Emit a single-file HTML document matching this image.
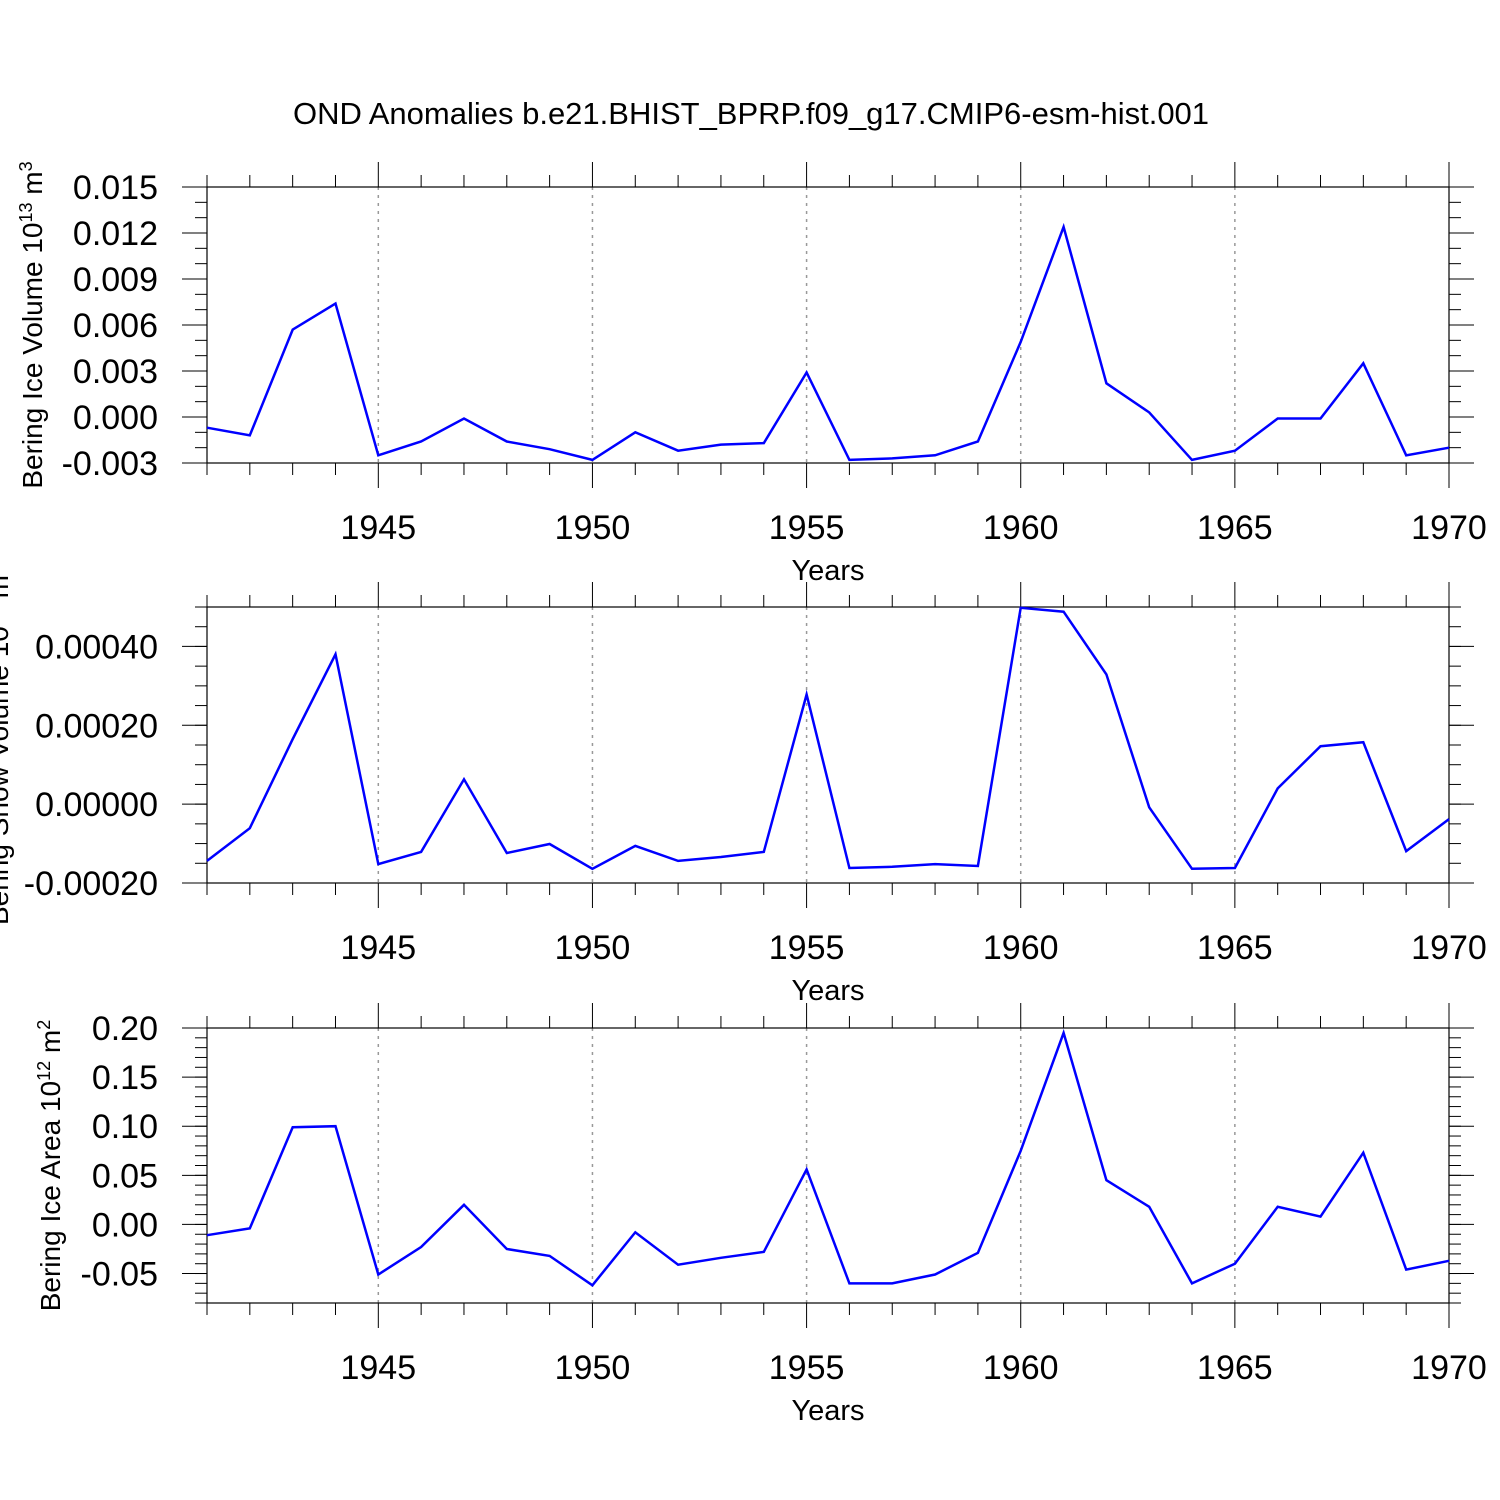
<!DOCTYPE html>
<html><head><meta charset="utf-8"><style>
html,body{margin:0;padding:0;background:#fff;}
svg{display:block;font-family:"Liberation Sans",Arial,sans-serif;}
</style></head><body>
<svg id="chart" width="1500" height="1500" viewBox="0 0 1500 1500" xmlns="http://www.w3.org/2000/svg">
<rect width="1500" height="1500" fill="#fff"/>
<text x="751" y="124" font-size="31" text-anchor="middle">OND Anomalies b.e21.BHIST_BPRP.f09_g17.CMIP6-esm-hist.001</text>
</svg>
<script>
const years = [1941,1942,1943,1944,1945,1946,1947,1948,1949,1950,1951,1952,1953,1954,1955,1956,1957,1958,1959,1960,1961,1962,1963,1964,1965,1966,1967,1968,1969,1970];
const iceVolume = [-0.0007,-0.0012,0.0057,0.0074,-0.0025,-0.0016,-0.0001,-0.0016,-0.0021,-0.0028,-0.001,-0.0022,-0.0018,-0.0017,0.0029,-0.0028,-0.0027,-0.0025,-0.0016,0.0049,0.0124,0.0022,0.0003,-0.0028,-0.0022,-0.0001,-0.0001,0.0035,-0.0025,-0.002];
const snowVolume = [-0.000144,-0.000061,0.000165,0.00038,-0.000152,-0.000121,0.000063,-0.000124,-0.000101,-0.000164,-0.000106,-0.000144,-0.000134,-0.000121,0.000278,-0.000162,-0.000159,-0.000152,-0.000157,0.000498,0.000488,0.000329,-0.000008,-0.000164,-0.000162,0.00004,0.000147,0.000157,-0.000119,-0.000038];
const iceArea = [-0.011,-0.004,0.099,0.100,-0.051,-0.023,0.020,-0.025,-0.032,-0.062,-0.008,-0.041,-0.034,-0.028,0.056,-0.060,-0.060,-0.051,-0.029,0.075,0.195,0.045,0.018,-0.060,-0.040,0.018,0.008,0.073,-0.046,-0.037];
const xTickYears = [1945,1950,1955,1960,1965,1970];
const volTicks = ["0.015","0.012","0.009","0.006","0.003","0.000","-0.003"];
const snowTicks = ["0.00040","0.00020","0.00000","-0.00020"];
const areaTicks = ["0.20","0.15","0.10","0.05","0.00","-0.05"];

const NS="http://www.w3.org/2000/svg";
const svg=document.getElementById('chart');
const X0=207,X1=1449;
function xs(yr){return X0+(yr-1941)/(1970-1941)*(X1-X0);}
function mk(tag,attrs,parent){const e=document.createElementNS(NS,tag);for(const k in attrs)e.setAttribute(k,attrs[k]);(parent||svg).appendChild(e);return e;}

function panel(cfg){
  const g=mk('g',{});
  
  
  const ys=v=>cfg.top+(cfg.ymax-v)/(cfg.ymax-cfg.ymin)*(cfg.bot-cfg.top);
  xTickYears.forEach(yr=>{ if(yr<1970){
    const l=mk('line',{x1:xs(yr),x2:xs(yr),y1:cfg.top,y2:cfg.bot,stroke:'#999','stroke-width':1.5,'stroke-dasharray':'3,5'},g);
    
    
  }});
  const fr=mk('rect',{x:X0,y:cfg.top,width:X1-X0,height:cfg.bot-cfg.top,fill:'none',stroke:'#000','stroke-width':1.2},g);
  
  
  years.forEach(yr=>{
    const major=yr%5===0; const L=major?25:12; const x=xs(yr);
    mk('line',{x1:x,x2:x,y1:cfg.top,y2:cfg.top-L,stroke:'#000','stroke-width':1},g);
    mk('line',{x1:x,x2:x,y1:cfg.bot,y2:cfg.bot+L,stroke:'#000','stroke-width':1},g);
  });
  xTickYears.forEach(yr=>{
    const t=mk('text',{x:xs(yr),y:cfg.bot+76,'font-size':34,'text-anchor':'middle'},g);
    t.textContent=yr;
    
    
  });
  const xt=mk('text',{x:828,y:cfg.bot+117,'font-size':29,'text-anchor':'middle'},g);
  xt.textContent='Years';
  
  
  for(let v=cfg.ymin;v<=cfg.ymax+1e-12;v+=cfg.minor){
    const y=ys(v);
    mk('line',{x1:X0,x2:X0-12,y1:y,y2:y,stroke:'#000','stroke-width':1},g);
    mk('line',{x1:X1,x2:X1+12,y1:y,y2:y,stroke:'#000','stroke-width':1},g);
  }
  cfg.ticks.forEach(s=>{
    const v=parseFloat(s), y=ys(v);
    mk('line',{x1:X0,x2:X0-25,y1:y,y2:y,stroke:'#000','stroke-width':1},g);
    mk('line',{x1:X1,x2:X1+25,y1:y,y2:y,stroke:'#000','stroke-width':1},g);
    const t=mk('text',{x:158,y:y+12,'font-size':34,'text-anchor':'end'},g);
    t.textContent=s;
    
    
  });
  const cy=(cfg.top+cfg.bot)/2;
  const yt=mk('text',{x:cfg.ytx,y:cy,'font-size':28,'text-anchor':'middle',transform:`rotate(-90 ${cfg.ytx} ${cy})`},g);
  yt.innerHTML=cfg.ytitle;
  
  
  const pts=years.map((yr,i)=>xs(yr).toFixed(1)+','+ys(cfg.data[i]).toFixed(1)).join(' ');
  const pl=mk('polyline',{points:pts,fill:'none',stroke:'#0000ff','stroke-width':2.5},g);
  
  
}
panel({name:'ice-volume-panel',top:187,bot:463,ymin:-0.003,ymax:0.015,minor:0.001,ticks:volTicks,data:iceVolume,ytx:42,
  ytitle:'Bering Ice Volume 10<tspan baseline-shift="super" font-size="18">13</tspan> m<tspan baseline-shift="super" font-size="18">3</tspan>'});
panel({name:'snow-volume-panel',top:607,bot:883,ymin:-0.0002,ymax:0.0005,minor:0.00005,ticks:snowTicks,data:snowVolume,ytx:8,
  ytitle:'Bering Snow Volume 10<tspan baseline-shift="super" font-size="18">13</tspan> m<tspan baseline-shift="super" font-size="18">3</tspan>'});
panel({name:'ice-area-panel',top:1028,bot:1303,ymin:-0.08,ymax:0.2,minor:0.01,ticks:areaTicks,data:iceArea,ytx:60,
  ytitle:'Bering Ice Area 10<tspan baseline-shift="super" font-size="18">12</tspan> m<tspan baseline-shift="super" font-size="18">2</tspan>'});
</script>
</body></html>
